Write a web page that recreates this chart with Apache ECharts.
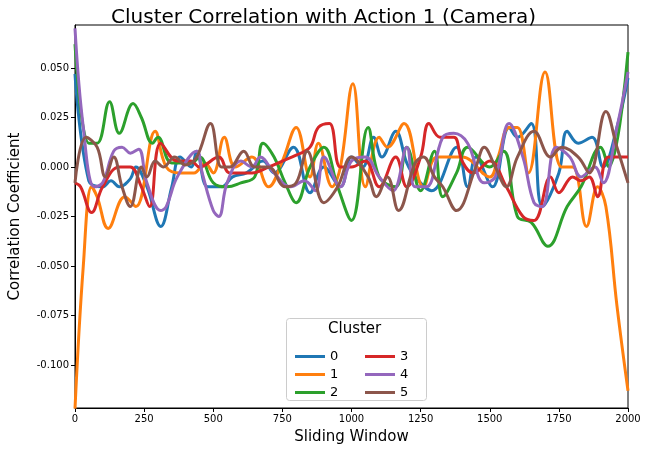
<!DOCTYPE html>
<html><head><meta charset="utf-8">
<script src="https://cdn.jsdelivr.net/npm/echarts@6/dist/echarts.min.js"></script>
<style>html,body{margin:0;padding:0;background:#fff}#c{width:647px;height:451px}</style>
</head><body><div id="c"></div>
<script>
// [sliding window, correlation] points
const cluster0 = [[0,0.047],[50,-0.007],[100,-0.01],[130,-0.007],[160,-0.01],[200,-0.006],[220,0],[260,-0.01],[310,-0.03],[350,-0.01],[380,0.005],[420,0],[440,0.008],[480,-0.01],[530,-0.01],[570,-0.005],[620,-0.003],[680,0.003],[720,-0.003],[790,0.01],[850,-0.013],[900,0],[960,-0.01],[1000,0.005],[1040,0],[1080,0.015],[1110,0.005],[1160,0.018],[1200,0.002],[1230,-0.005],[1290,-0.012],[1380,0.01],[1420,-0.01],[1450,0.005],[1510,-0.01],[1570,0.02],[1600,0.015],[1650,0.022],[1690,-0.02],[1750,-0.003],[1780,0.018],[1820,0.012],[1870,0.015],[1910,0],[1960,0.02],[2000,0.045]];
const cluster1 = [[0,-0.122],[30,-0.05],[60,-0.01],[80,-0.015],[120,-0.031],[180,-0.015],[220,-0.02],[290,0.018],[330,0],[380,-0.003],[430,-0.003],[470,0.002],[500,-0.003],[540,0.015],[580,0],[640,0.005],[700,-0.01],[750,0.003],[800,0.02],[850,-0.005],[880,0.012],[930,-0.01],[960,0],[1005,0.042],[1050,-0.01],[1100,0.015],[1130,0.01],[1190,0.022],[1260,-0.01],[1310,0.005],[1400,0.005],[1500,-0.005],[1530,0.005],[1570,0.02],[1600,0.02],[1640,-0.003],[1700,0.048],[1760,0],[1800,0],[1850,-0.03],[1890,-0.01],[1920,-0.02],[1960,-0.07],[2000,-0.113]];
const cluster2 = [[0,0.062],[50,0.012],[80,0.012],[125,0.033],[160,0.017],[210,0.032],[240,0.025],[280,0.012],[300,0.015],[350,0.002],[420,0.002],[450,0.005],[500,-0.008],[550,-0.01],[600,-0.008],[650,-0.005],[680,0.012],[720,0.005],[760,-0.008],[800,-0.018],[850,0],[900,0.01],[950,-0.01],[1000,-0.027],[1060,0.02],[1100,-0.005],[1160,-0.01],[1200,0.01],[1250,-0.012],[1300,0.008],[1330,-0.015],[1380,-0.003],[1420,0.01],[1500,0],[1550,0.008],[1600,-0.025],[1650,-0.028],[1710,-0.04],[1780,-0.02],[1830,-0.01],[1900,0.01],[1930,0],[2000,0.058]];
const cluster3 = [[0,-0.008],[20,-0.01],[60,-0.023],[100,-0.01],[160,0],[200,0],[240,-0.01],[270,-0.02],[310,0.012],[370,0.003],[420,0.003],[450,0],[520,0.005],[560,-0.003],[640,-0.003],[700,0],[750,0.003],[800,0.006],[850,0.01],[880,0.02],[920,0.022],[960,0],[1000,0],[1050,0.003],[1100,-0.01],[1160,0.005],[1200,-0.01],[1250,0.005],[1280,0.022],[1320,0.015],[1370,0.015],[1400,0.003],[1440,-0.003],[1500,0.003],[1560,-0.01],[1620,-0.025],[1660,-0.027],[1720,-0.005],[1750,-0.013],[1800,-0.005],[1830,-0.007],[1860,-0.005],[1890,-0.015],[1930,0.005],[2000,0.005]];
const cluster4 = [[0,0.07],[30,0.02],[70,-0.01],[100,-0.008],[140,0.008],[170,0.01],[200,0.007],[230,0.009],[260,-0.008],[310,-0.022],[330,-0.02],[370,-0.005],[440,0.008],[460,-0.003],[500,-0.022],[520,-0.025],[550,-0.008],[600,0.003],[640,0],[670,0.005],[720,-0.003],[780,-0.01],[830,-0.007],[870,-0.012],[900,0.005],[960,-0.01],[1000,0.003],[1050,0.005],[1100,-0.005],[1150,-0.012],[1200,0.01],[1230,-0.01],[1270,-0.01],[1330,0.015],[1370,0.017],[1420,0.012],[1480,-0.008],[1520,-0.005],[1570,0.022],[1620,0.005],[1660,-0.018],[1690,-0.02],[1740,0.01],[1790,0.005],[1830,-0.005],[1880,0],[1910,-0.008],[1960,0.02],[2000,0.048]];
const cluster5 = [[0,-0.008],[40,0.015],[80,0.01],[110,-0.005],[140,0.005],[170,-0.01],[200,-0.02],[240,0],[260,-0.005],[290,0.003],[320,0],[360,0.005],[400,0.001],[440,0.005],[490,0.022],[530,0],[560,0],[610,0.008],[650,0],[700,0],[760,-0.01],[800,-0.008],[840,0.008],[900,-0.018],[950,-0.01],[1000,0.005],[1060,-0.005],[1090,-0.015],[1130,-0.005],[1170,-0.022],[1230,0.002],[1260,0.005],[1300,-0.005],[1330,-0.01],[1380,-0.022],[1450,0],[1480,0.01],[1520,0],[1560,-0.01],[1600,0.005],[1660,0.018],[1720,0.005],[1760,0.01],[1820,0.005],[1860,-0.003],[1920,0.028],[1960,0.01],[2000,-0.008]];
const clusterNames = ['0','1','2','3','4','5'];
const yTicks = [-0.1,-0.075,-0.05,-0.025,0,0.025,0.05];
const xTicks = [0,250,500,750,1000,1250,1500,1750,2000];

const colors = ['#1f77b4','#ff7f0e','#2ca02c','#d62728','#9467bd','#8c564b'];
const allData = [cluster0, cluster1, cluster2, cluster3, cluster4, cluster5];

const chart = echarts.init(document.getElementById('c'));
const legendCommon = {
  orient: 'vertical', itemWidth: 30, itemHeight: 3, itemGap: 5, z: 200,
  icon: 'rect', textStyle: {fontSize: 13, color: '#000', fontFamily: 'DejaVu Sans'},
  selectedMode: false
};
chart.setOption({
  animation: false,
  color: colors,
  title: {text: 'Cluster Correlation with Action 1 (Camera)', left: 'center', top: 3,
    textStyle: {fontSize: 20, fontWeight: 'normal', color: '#000', fontFamily: 'DejaVu Sans'}},
  grid: {left: 71, right: 19, top: 25, bottom: 43, show: true, borderColor: '#000', borderWidth: 1},
  xAxis: {
    type: 'value', min: 0, max: 2000, interval: 250,
    name: 'Sliding Window', nameLocation: 'middle', nameGap: 22,
    nameTextStyle: {fontSize: 15, color: '#000', fontFamily: 'DejaVu Sans'},
    axisLine: {onZero: false, lineStyle: {color: '#000'}}, axisTick: {lineStyle: {color: '#000'}, length: 4},
    axisLabel: {fontSize: 10, color: '#000', margin: 6, fontFamily: 'DejaVu Sans', customValues: xTicks,
      formatter: v => String(v)},
    splitLine: {show: false}
  },
  yAxis: {
    type: 'value', min: -0.1217, max: 0.0717,
    name: 'Correlation Coefficient', nameLocation: 'middle', nameGap: 52,
    nameTextStyle: {fontSize: 15, color: '#000', fontFamily: 'DejaVu Sans'},
    axisLine: {show: true, onZero: false, lineStyle: {color: '#000'}},
    axisTick: {show: true, inside: false, length: 4, lineStyle: {color: '#000'}, customValues: yTicks},
    axisLabel: {fontSize: 10, color: '#000', margin: 6, fontFamily: 'DejaVu Sans', customValues: yTicks,
      formatter: v => v.toFixed(3)},
    splitLine: {show: false}
  },
  legend: [
    Object.assign({data: clusterNames.slice(0,3), left: 290, top: 345}, legendCommon),
    Object.assign({data: clusterNames.slice(3), left: 360, top: 345}, legendCommon)
  ],
  graphic: [
    {type: 'rect', left: 286, top: 318, z: 50, shape: {width: 140, height: 82, r: 3},
      style: {fill: 'rgba(255,255,255,0.8)', stroke: '#ccc', lineWidth: 1}},
    {type: 'text', left: 328, top: 322, z: 60,
      style: {text: 'Cluster', fontSize: 15, fill: '#000', fontFamily: 'DejaVu Sans'}}
  ],
  series: allData.map((d, i) => ({
    name: clusterNames[i], type: 'line', data: d, smooth: 0.4, z: 2,
    showSymbol: false, lineStyle: {width: 3}, clip: true
  }))
});
</script></body></html>
